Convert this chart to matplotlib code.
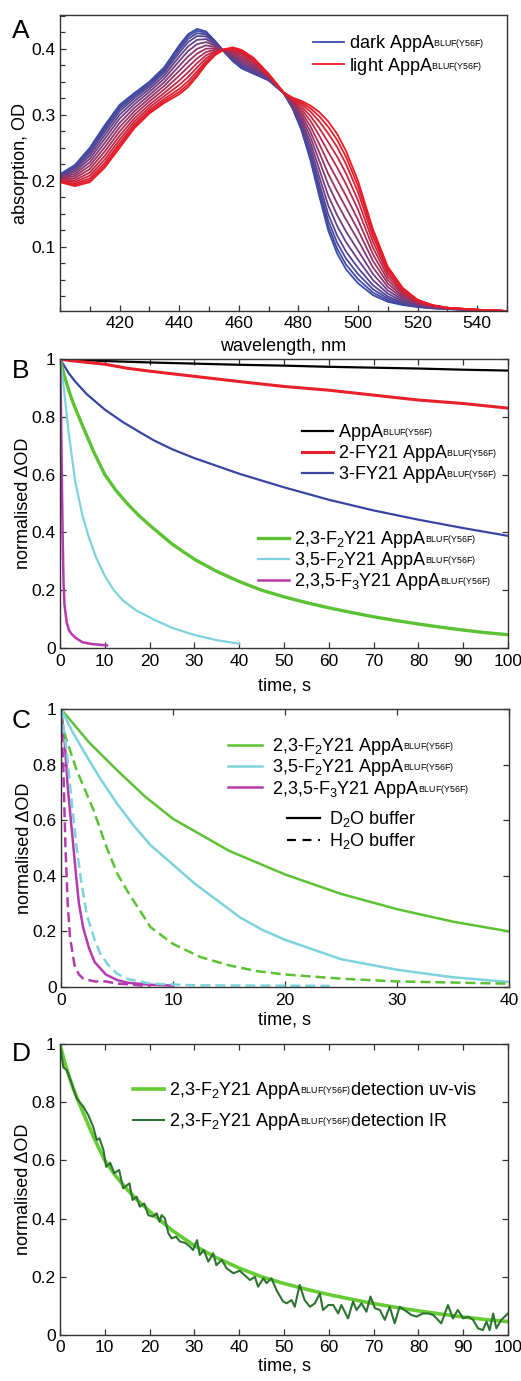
import numpy as np
import matplotlib
matplotlib.use("Agg")
import matplotlib.pyplot as plt
from matplotlib.ticker import MultipleLocator, FixedLocator, FormatStrFormatter

plt.rcParams['font.family'] = ['Liberation Sans', 'DejaVu Sans']
plt.rcParams['mathtext.fontset'] = 'custom'
plt.rcParams['mathtext.rm'] = 'Liberation Sans'
plt.rcParams['mathtext.it'] = 'Liberation Sans:italic'
plt.rcParams['mathtext.bf'] = 'Liberation Sans:bold'

# ---------------- Panel A : dark -> light absorption spectra ----------------
wavelength = [400, 405, 410, 415, 420, 425, 430, 435, 440, 443, 446, 449, 452, 455,
              458, 461, 465, 470, 475, 478, 481, 484, 487, 490, 493, 496, 500, 505,
              510, 515, 520, 525, 530, 540, 550]
dark_spec = [0.210, 0.224, 0.250, 0.284, 0.315, 0.333, 0.350, 0.372, 0.405, 0.422,
             0.430, 0.426, 0.412, 0.396, 0.381, 0.370, 0.362, 0.352, 0.333, 0.310,
             0.277, 0.232, 0.177, 0.125, 0.090, 0.066, 0.045, 0.027, 0.017, 0.012,
             0.009, 0.007, 0.006, 0.004, 0.003]
light_spec = [0.198, 0.192, 0.198, 0.220, 0.250, 0.280, 0.302, 0.318, 0.331, 0.342,
              0.358, 0.376, 0.390, 0.399, 0.402, 0.398, 0.386, 0.362, 0.334, 0.326,
              0.321, 0.314, 0.304, 0.290, 0.271, 0.245, 0.200, 0.127, 0.070, 0.038,
              0.020, 0.012, 0.008, 0.005, 0.003]
# fraction of light state in each recorded spectrum (read from the 446 nm peak heights)
light_fraction = [0.0, 0.04, 0.09, 0.15, 0.23, 0.32, 0.42, 0.52, 0.62, 0.72, 0.81, 0.89, 0.95, 1.0]

# ---------------- Panel B : recovery kinetics ----------------
t_black = [0, 10, 20, 30, 40, 50, 60, 70, 80, 90, 100]
y_black = [1.0, 0.993, 0.988, 0.984, 0.980, 0.977, 0.973, 0.970, 0.967, 0.963, 0.960]

t_red = [0, 2, 5, 10, 15, 20, 30, 40, 50, 60, 70, 80, 90, 100]
y_red = [1.0, 0.995, 0.99, 0.982, 0.968, 0.958, 0.940, 0.922, 0.905, 0.892, 0.875, 0.858, 0.846, 0.830]

t_blue = [0, 1, 2, 3.5, 6, 10, 14, 18, 21, 25, 30, 40, 50, 60, 70, 80, 90, 100]
y_blue = [1.0, 0.975, 0.95, 0.92, 0.878, 0.825, 0.782, 0.745, 0.718, 0.688, 0.657, 0.603,
          0.556, 0.513, 0.476, 0.444, 0.415, 0.388]

# 2,3-F2Y21 uv-vis trace (same measurement in panels B and D)
t_f2y23 = [0, 1, 2, 3, 5, 7.5, 10, 12.5, 15, 17.5, 20, 25, 30, 35, 40, 45, 50, 55, 60, 65,
           70, 75, 80, 85, 90, 95, 100]
y_f2y23 = [1.0, 0.94, 0.89, 0.845, 0.77, 0.68, 0.60, 0.545, 0.50, 0.46, 0.425, 0.36, 0.307,
           0.265, 0.23, 0.20, 0.177, 0.157, 0.139, 0.123, 0.108, 0.095, 0.083, 0.072, 0.062,
           0.053, 0.046]

t_cyan = [0, 0.7, 1.9, 3.4, 5, 6.3, 8, 10, 12, 14, 17, 21, 25, 30, 35, 40]
y_cyan = [1.0, 0.92, 0.75, 0.575, 0.46, 0.39, 0.315, 0.25, 0.20, 0.165, 0.13, 0.098, 0.07,
          0.045, 0.027, 0.015]

t_mag = [0, 0.2, 0.4, 0.6, 0.8, 1.0, 1.5, 2, 2.5, 3.5, 5, 7, 9, 10.5]
y_mag = [1.0, 0.85, 0.6, 0.38, 0.22, 0.15, 0.088, 0.062, 0.05, 0.035, 0.02, 0.014, 0.011, 0.009]

# ---------------- Panel C : D2O vs H2O buffer ----------------
tc_green_d2o = [0, 2.5, 5, 7.5, 10, 15, 20, 25, 30, 35, 40]
yc_green_d2o = [1.0, 0.88, 0.78, 0.685, 0.605, 0.49, 0.405, 0.335, 0.28, 0.235, 0.2]
tc_green_h2o = [0, 0.4, 1.4, 2.9, 4, 5, 6, 8, 10, 12.5, 15, 17.5, 20, 25, 30, 40]
yc_green_h2o = [0.97, 0.9, 0.78, 0.637, 0.51, 0.41, 0.34, 0.215, 0.155, 0.107, 0.078, 0.057,
                0.045, 0.03, 0.02, 0.012]
tc_cyan_d2o = [0, 1, 2, 3.5, 5, 6.5, 8, 10, 12, 14, 16, 18, 20, 25, 30, 35, 40]
yc_cyan_d2o = [1.0, 0.92, 0.85, 0.75, 0.66, 0.58, 0.51, 0.44, 0.37, 0.31, 0.25, 0.205, 0.17,
               0.10, 0.062, 0.035, 0.018]
tc_cyan_h2o = [0, 0.5, 1, 1.4, 1.8, 2.3, 3, 3.5, 4.2, 5, 6, 8, 12, 18, 24]
yc_cyan_h2o = [1.0, 0.85, 0.65, 0.5, 0.38, 0.26, 0.17, 0.12, 0.08, 0.048, 0.028, 0.012, 0.006,
               0.005, 0.004]
tc_mag_d2o = [0, 0.3, 0.6, 1, 1.3, 1.6, 2, 2.5, 3, 4, 5, 6, 8, 10]
yc_mag_d2o = [1.0, 0.9, 0.72, 0.55, 0.42, 0.30, 0.21, 0.14, 0.09, 0.045, 0.025, 0.015, 0.008, 0.005]
tc_mag_h2o = [0, 0.2, 0.4, 0.6, 0.8, 1.2, 1.6, 2, 3, 4, 5, 6, 7, 8]
yc_mag_h2o = [0.97, 0.8, 0.5, 0.3, 0.18, 0.08, 0.045, 0.03, 0.02, 0.02, 0.012, 0.01, 0.006, 0.005]

# ---------------- Panel D : IR detection ----------------
t_ir = [0, 0.74, 1.5, 2.6, 3.7, 5.2, 6.3, 7.4, 8.2, 8.8, 9.7, 10.3, 11.2, 12.1, 13.2, 14.1,
        15.5, 16.2, 17.1, 17.8, 18.8, 19.7, 20.7, 21.6, 22.2, 22.7, 23.4, 24.2, 24.9, 25.9,
        26.8, 27.9, 29, 29.7, 30.6, 31.2, 32.1, 33.1, 34.2, 34.9, 36.1, 37.2, 38.7, 40.1,
        41.6, 42.4, 43.5, 44.2, 45.4, 46.1, 47.2, 48.3, 49.8, 50.6, 51.7, 52.4, 53.5, 54.6,
        55.8, 56.9, 58, 58.7, 59.9, 61, 62.1, 62.8, 64.3, 65.4, 66.2, 67.3, 68.4, 69.3, 70.3,
        71.4, 72.5, 73.6, 74.7, 75.8, 76.9, 78.4, 79.6, 81, 82.2, 83.3, 85.1, 86.6, 87.7,
        88.8, 90, 91.1, 92.2, 93.3, 94.4, 95.2, 95.9, 96.7, 97.4, 98.5, 100]
y_ir = [1.0, 0.92, 0.91, 0.865, 0.813, 0.785, 0.756, 0.716, 0.67, 0.676, 0.636, 0.578, 0.592,
        0.556, 0.567, 0.504, 0.521, 0.464, 0.475, 0.441, 0.452, 0.412, 0.407, 0.418, 0.389,
        0.412, 0.401, 0.349, 0.332, 0.338, 0.321, 0.317, 0.304, 0.292, 0.326, 0.275, 0.292,
        0.252, 0.281, 0.24, 0.258, 0.229, 0.212, 0.221, 0.2, 0.189, 0.2, 0.166, 0.195, 0.178,
        0.195, 0.155, 0.115, 0.109, 0.12, 0.097, 0.172, 0.12, 0.097, 0.109, 0.143, 0.086,
        0.103, 0.103, 0.074, 0.103, 0.057, 0.115, 0.086, 0.109, 0.08, 0.132, 0.092, 0.086,
        0.052, 0.097, 0.04, 0.097, 0.086, 0.069, 0.063, 0.074, 0.074, 0.069, 0.04, 0.103,
        0.057, 0.086, 0.057, 0.063, 0.052, 0.023, 0.017, 0.046, 0.017, 0.074, 0.023, 0.052,
        0.074]

# small "BLUF(Y56F)" index written at the baseline
SUB = r'$_{{}^{\mathregular{BLUF(Y56F)}}}$'
W, H = 521, 1381
FS_TICK = 12.5
FS_LAB = 13
FS_LEG = 13

BLUE = np.array([0.23, 0.30, 0.66])
RED = np.array([0.92, 0.11, 0.15])


def frame(rect):
    """rect given as (left, top, right, bottom) in pixels"""
    l, t, r, b = rect
    return fig.add_axes([l / W, 1 - b / H, (r - l) / W, (b - t) / H])


def style(ax, all_sides=True, xpad=3.5):
    for s in ax.spines.values():
        s.set_linewidth(1.0)
        s.set_color('#333333')
    ax.tick_params(which='both', direction='in', labelsize=FS_TICK, width=0.9,
                   top=all_sides, right=all_sides, colors='#333333', labelcolor='black')
    ax.tick_params(which='major', length=4.5, pad=3)
    ax.tick_params(axis='x', which='major', pad=xpad)
    ax.tick_params(which='minor', length=3.5)


def kinetics_axis(ax, xmax, xpad=3.5, xlabelpad=2):
    ax.set_xlim(0, xmax)
    ax.set_ylim(0, 1)
    ax.xaxis.set_major_locator(MultipleLocator(10))
    ax.yaxis.set_major_locator(MultipleLocator(0.2))
    ax.xaxis.set_major_formatter(FormatStrFormatter('%g'))
    ax.yaxis.set_major_formatter(FormatStrFormatter('%g'))
    ax.set_xlabel('time, s', fontsize=FS_LAB, labelpad=xlabelpad)
    ax.set_ylabel('normalised ΔOD', fontsize=FS_LAB, labelpad=0)
    style(ax, xpad=xpad)


def legend(ax, handles, anchor, spacing, textpad=0.3, hlen=1.7):
    return ax.legend(handles=handles, loc='center left', bbox_to_anchor=anchor,
                     frameon=False, fontsize=FS_LEG, handlelength=hlen,
                     handletextpad=textpad, borderpad=0, borderaxespad=0,
                     labelspacing=spacing)


fig = plt.figure(figsize=(W / 100, H / 100), dpi=100)

# ---- A
axA = frame((60, 15, 507, 311))
dark = np.array(dark_spec)
light = np.array(light_spec)
handlesA = []
for i, f in enumerate(light_fraction):
    col = BLUE * (1 - f) + RED * f
    lab = None
    if i == 0:
        lab = 'dark AppA' + SUB
    elif i == len(light_fraction) - 1:
        lab = 'light AppA' + SUB
    ln = axA.plot(wavelength, dark * (1 - f) + light * f, color=col, lw=1.3, label=lab)
    if lab:
        handlesA += ln
axA.set_xlim(400, 550)
axA.set_ylim(0.003, 0.451)
axA.xaxis.set_major_locator(FixedLocator([420, 440, 460, 480, 500, 520, 540]))
axA.xaxis.set_minor_locator(MultipleLocator(10))
axA.yaxis.set_major_locator(FixedLocator([0.1, 0.2, 0.3, 0.4]))
axA.yaxis.set_minor_locator(MultipleLocator(0.025))
axA.yaxis.set_major_formatter(FormatStrFormatter('%g'))
axA.set_xlabel('wavelength, nm', fontsize=FS_LAB, labelpad=5)
axA.set_ylabel('absorption, OD', fontsize=FS_LAB, labelpad=2)
style(axA, all_sides=False)
legend(axA, handlesA, (0.566, 0.865), 0.08)

# ---- B
axB = frame((60, 359, 508, 648))
lb1 = axB.plot(t_black, y_black, color='black', lw=1.6, label='AppA' + SUB)
lb2 = axB.plot(t_red, y_red, color='#e8202a', lw=2.2, label='2-FY21 AppA' + SUB)
lb3 = axB.plot(t_blue, y_blue, color='#3b44a2', lw=1.6, label='3-FY21 AppA' + SUB)
lb4 = axB.plot(t_f2y23, y_f2y23, color='#5cc234', lw=2.4, label='2,3-F$_2$Y21 AppA' + SUB)
lb5 = axB.plot(t_cyan, y_cyan, color='#7dd3dc', lw=1.6, label='3,5-F$_2$Y21 AppA' + SUB)
lb6 = axB.plot(t_mag, y_mag, color='#b43aae', lw=1.8, label='2,3,5-F$_3$Y21 AppA' + SUB)
kinetics_axis(axB, 100, xpad=4.5, xlabelpad=6)
axB.add_artist(legend(axB, lb1 + lb2 + lb3, (0.54, 0.673), 0.0))
legend(axB, lb4 + lb5 + lb6, (0.442, 0.302), 0.0)

# ---- C
axC = frame((61, 709, 509, 987))
lc1 = axC.plot(tc_green_d2o, yc_green_d2o, color='#5cc234', lw=1.8, label='2,3-F$_2$Y21 AppA' + SUB)
lc2 = axC.plot(tc_cyan_d2o, yc_cyan_d2o, color='#7dd3dc', lw=1.8, label='3,5-F$_2$Y21 AppA' + SUB)
lc3 = axC.plot(tc_mag_d2o, yc_mag_d2o, color='#b43aae', lw=1.8, label='2,3,5-F$_3$Y21 AppA' + SUB)
axC.plot(tc_green_h2o, yc_green_h2o, color='#5cc234', lw=1.8, ls=(0, (4, 2)))
axC.plot(tc_cyan_h2o, yc_cyan_h2o, color='#7dd3dc', lw=1.8, ls=(0, (4, 2)))
axC.plot(tc_mag_h2o, yc_mag_h2o, color='#b43aae', lw=1.8, ls=(0, (4, 2)))
kinetics_axis(axC, 40, xpad=4.5, xlabelpad=2)
axC.add_artist(legend(axC, lc1 + lc2 + lc3, (0.373, 0.788), 0.02, textpad=0.6, hlen=1.85))
hd = axC.plot([], [], color='black', lw=1.6, label='D$_2$O buffer')
hh = axC.plot([], [], color='black', lw=1.6, ls=(0, (4, 3)), label='H$_2$O buffer')
legend(axC, hd + hh, (0.504, 0.565), 0.1, textpad=0.5, hlen=1.85)

# ---- D
axD = frame((60, 1044, 508, 1335))
ld1 = axD.plot(t_f2y23, y_f2y23, color='#66cc33', lw=2.6,
               label='2,3-F$_2$Y21 AppA' + SUB + 'detection uv-vis')
ld2 = axD.plot(t_ir, y_ir, color='#2e7331', lw=1.5,
               label='2,3-F$_2$Y21 AppA' + SUB + 'detection IR')
kinetics_axis(axD, 100)
legend(axD, ld1 + ld2, (0.163, 0.786), 0.55)

# panel letters
for letter, y in zip('ABCD', [31, 371, 721, 1054]):
    fig.text(21 / W, 1 - y / H, letter, fontsize=19, ha='center', va='center')

fig.savefig('out.png', dpi=100)
